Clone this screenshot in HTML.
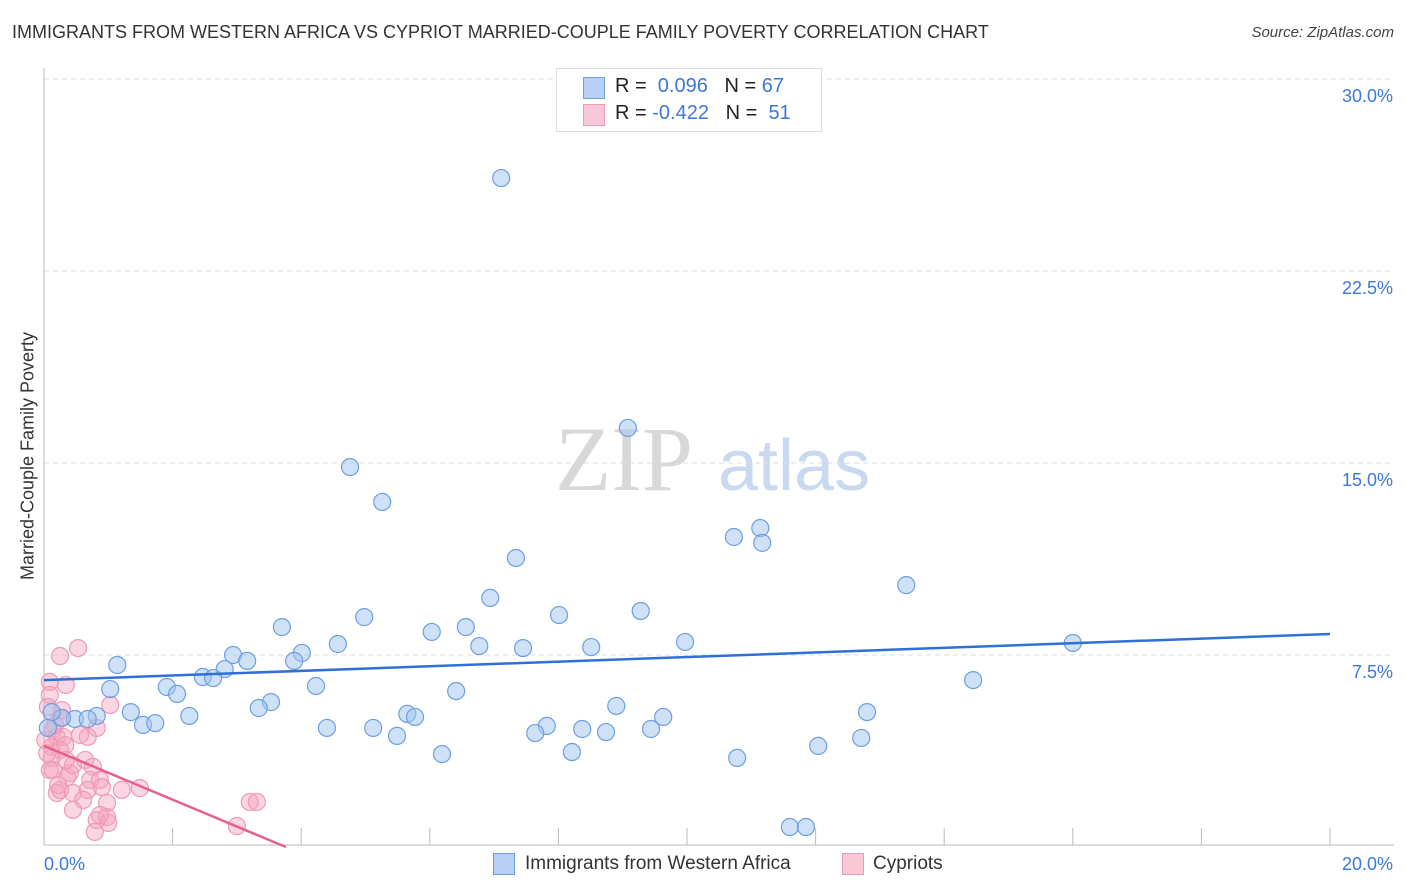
<!DOCTYPE html>
<html><head><meta charset="utf-8"><style>
body{margin:0;background:#fff;font-family:"Liberation Sans",sans-serif;}
#wrap{position:relative;width:1406px;height:892px;overflow:hidden;}
.t{position:absolute;white-space:nowrap;}
</style></head><body>
<div id="wrap">
<div class="t" style="left:12px;top:22px;font-size:18px;color:#333;">IMMIGRANTS FROM WESTERN AFRICA VS CYPRIOT MARRIED-COUPLE FAMILY POVERTY CORRELATION CHART</div>
<div class="t" style="right:12px;top:24px;font-size:15px;color:#444;font-style:italic;">Source: ZipAtlas.com</div>
<div class="t" style="left:28px;top:456px;font-size:18px;color:#333;transform:translate(-50%,-50%) rotate(-90deg);">Married-Couple Family Poverty</div>
<svg id="svg" width="1406" height="892" style="position:absolute;left:0;top:0"></svg>
</div>
<script>
const xTicks=[0,2,4,6,8,10,12,14,16,18,20];
const yTicks=[7.5,15,22.5,30];
const yTickLabels=["7.5%","15.0%","22.5%","30.0%"];
const blueX=[7.11,9.08,4.76,5.26,7.34,10.73,11.14,11.17,13.41,6.94,4.98,8.01,9.28,3.70,6.56,6.03,9.97,16.00,4.57,6.77,7.45,8.51,4.01,2.94,3.89,3.16,1.14,2.81,2.47,2.63,4.23,1.91,1.03,2.07,6.41,14.45,8.90,3.53,3.34,1.35,12.80,2.26,5.65,5.77,9.63,0.82,0.48,0.68,0.28,0.12,1.54,1.73,4.40,5.12,7.82,8.37,8.74,9.44,7.64,5.49,12.71,12.04,8.21,6.19,10.78,11.60,11.85,0.06];
const blueY=[26.13,16.37,14.84,13.48,11.29,12.11,12.46,11.88,10.23,9.73,8.98,9.06,9.22,8.59,8.59,8.40,8.01,7.97,7.93,7.85,7.77,7.81,7.58,7.50,7.27,7.27,7.11,6.95,6.64,6.60,6.29,6.25,6.17,5.98,6.09,6.52,5.51,5.66,5.43,5.27,5.27,5.12,5.20,5.08,5.08,5.12,5.00,5.00,5.04,5.27,4.77,4.84,4.65,4.65,4.73,4.61,4.49,4.61,4.45,4.34,4.26,3.95,3.71,3.63,3.48,0.78,0.78,4.65];
const pinkX=[0.25,0.53,0.34,0.09,0.09,1.03,0.82,0.68,0.25,0.14,0.20,0.30,0.12,0.25,0.12,0.14,0.64,0.76,0.40,0.36,0.72,0.87,0.25,0.20,0.45,0.68,0.61,0.45,0.98,1.21,1.49,0.82,0.98,1.00,0.79,3.20,3.31,3.00,0.06,0.05,0.02,0.33,0.45,0.87,0.17,0.56,0.34,0.22,0.90,0.28,0.09];
const pinkY=[7.46,7.77,6.33,6.45,5.94,5.55,4.65,4.30,5.04,4.57,4.30,4.30,3.91,3.79,3.48,3.01,3.40,3.13,2.89,2.73,2.62,2.62,2.23,2.11,2.11,2.23,1.84,1.45,1.72,2.23,2.30,1.05,1.17,0.94,0.59,1.76,1.76,0.82,5.47,3.67,4.18,3.98,3.20,1.25,4.77,4.38,3.40,2.42,2.34,5.35,3.01];
const blueTrend=[6.52,8.32];
const pinkTrend=[3.95,-1.05];
const X=v=>44+v*64.3, Y=v=>847-v*25.6;
const svg=document.getElementById('svg');
const NS='http://www.w3.org/2000/svg';
function mk(tag,attrs,parent){const e=document.createElementNS(NS,tag);for(const k in attrs)e.setAttribute(k,attrs[k]);(parent||svg).appendChild(e);return e;}
// watermark
let w=mk('text',{x:555,y:490,'font-size':92,'font-family':'Liberation Serif,serif',fill:'#d8d8d8'});w.textContent='ZIP';


let w2=mk('text',{x:718,y:490,'font-size':72,'font-family':'Liberation Sans,sans-serif',fill:'#c8d9f0'});w2.textContent='atlas';


yTicks.forEach((v,i)=>{
 const g=mk('line',{x1:44,x2:1394,y1:Y(v),y2:Y(v),stroke:'#ddd','stroke-dasharray':'5,4'});
 
 
 const t=mk('text',{x:1393,y:Y(v)+23,'text-anchor':'end','font-size':18,fill:'#3b78d8','font-family':'Liberation Sans,sans-serif'});t.textContent=yTickLabels[i];
 
 
});
mk('line',{x1:44,x2:44,y1:68,y2:845,stroke:'#bbb'});
mk('line',{x1:44,x2:1394,y1:845,y2:845,stroke:'#bbb'});
xTicks.forEach(v=>{if(v===0)return;const l=mk('line',{x1:X(v),x2:X(v),y1:828,y2:845,stroke:'#bbb'});
 
 });
const xl0=mk('text',{x:44,y:870,'font-size':18,fill:'#3b78d8','font-family':'Liberation Sans,sans-serif'});xl0.textContent='0.0%';


const xl1=mk('text',{x:1393,y:870,'text-anchor':'end','font-size':18,fill:'#3b78d8','font-family':'Liberation Sans,sans-serif'});xl1.textContent='20.0%';


pinkX.forEach((v,i)=>{const c=mk('circle',{cx:X(v),cy:Y(pinkY[i]),r:8.5,fill:'rgba(244,165,190,0.45)',stroke:'#ee9ab5','stroke-width':1.2});
 
 });
blueX.forEach((v,i)=>{const c=mk('circle',{cx:X(v),cy:Y(blueY[i]),r:8.5,fill:'rgba(160,195,240,0.5)',stroke:'#6d9fe0','stroke-width':1.2});
 
 });
const bt=mk('line',{x1:X(0),y1:Y(blueTrend[0]),x2:X(20),y2:Y(blueTrend[0]+blueTrend[1]*0+ (blueTrend[1]-blueTrend[0])),stroke:'#2f6fd6','stroke-width':2.5});


const xe=-pinkTrend[0]/pinkTrend[1];
const pt=mk('line',{x1:X(0),y1:Y(pinkTrend[0]),x2:X(xe),y2:Y(0),stroke:'#e8608a','stroke-width':2.5});


</script>
<div class="t" style="left:556px;top:68px;width:264px;height:62px;border:1px solid #ddd;background:#fff;font-size:20px;">
 <div style="position:absolute;left:26px;top:8px;width:20px;height:20px;background:#b8d0f4;border:1px solid #6d9fe0;"></div>
 <div class="t" style="left:58px;top:6px;color:#222;">R = &nbsp;<span style="color:#3b78d8">0.096</span>&nbsp;&nbsp;&nbsp;N = <span style="color:#3b78d8">67</span></div>
 <div style="position:absolute;left:26px;top:35px;width:20px;height:20px;background:#f8c8d6;border:1px solid #ee9ab5;"></div>
 <div class="t" style="left:58px;top:33px;color:#222;">R = <span style="color:#3b78d8">-0.422</span>&nbsp;&nbsp;&nbsp;N = &nbsp;<span style="color:#3b78d8">51</span></div>
</div>
<div style="position:absolute;left:493px;top:853px;">
 <div style="position:absolute;left:0;top:0;width:20px;height:20px;background:#b8d0f4;border:1px solid #6d9fe0;"></div>
 <div class="t" style="left:32px;top:0;font-size:19px;color:#333;">Immigrants from Western Africa</div>
</div>
<div style="position:absolute;left:842px;top:853px;">
 <div style="position:absolute;left:0;top:0;width:20px;height:20px;background:#f8c8d6;border:1px solid #ee9ab5;"></div>
 <div class="t" style="left:31px;top:0;font-size:19px;color:#333;">Cypriots</div>
</div>
</body></html>
